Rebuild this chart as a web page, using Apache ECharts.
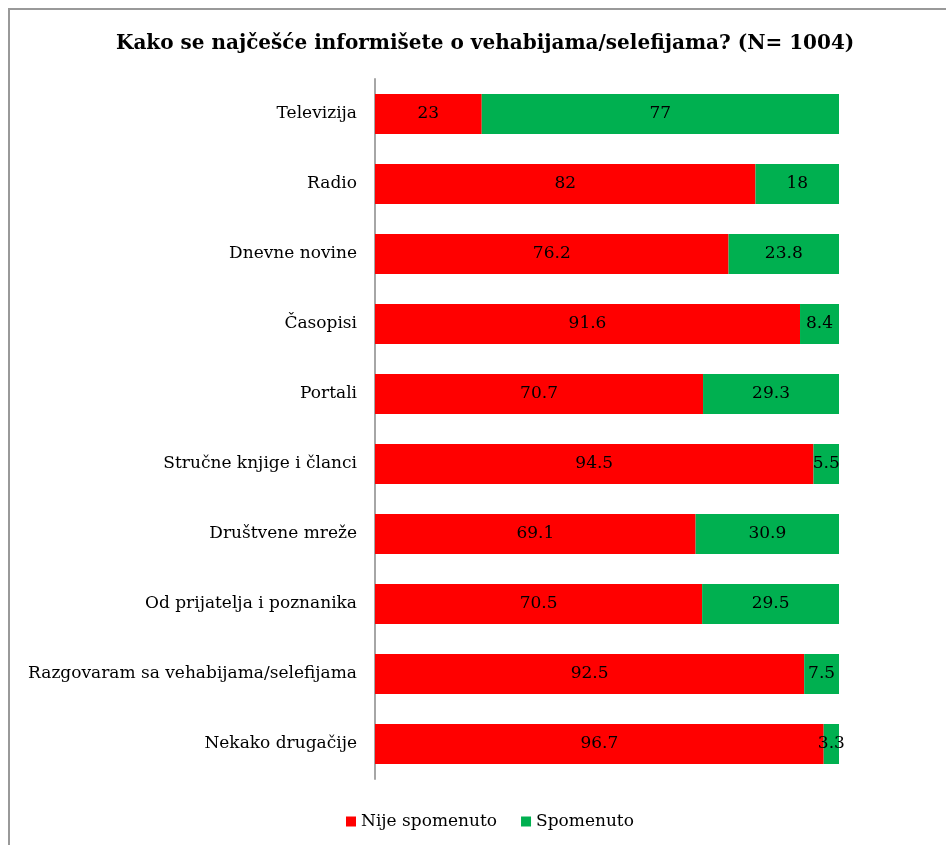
<!DOCTYPE html>
<html>
<head>
<meta charset="utf-8">
<script src="https://cdn.jsdelivr.net/npm/echarts@6/dist/echarts.min.js"></script>
<style>
  html, body { margin: 0; padding: 0; background: #fff; }
  #chart { width: 946px; height: 845px; }
</style>
</head>
<body>
<div id="chart"></div>
<script>
const categories = ['Televizija', 'Radio', 'Dnevne novine', 'Časopisi', 'Portali',
  'Stručne knjige i članci', 'Društvene mreže', 'Od prijatelja i poznanika',
  'Razgovaram sa vehabijama/selefijama', 'Nekako drugačije'];
const nijeSpomenuto = [23, 82, 76.2, 91.6, 70.7, 94.5, 69.1, 70.5, 92.5, 96.7];
const spomenuto = [77, 18, 23.8, 8.4, 29.3, 5.5, 30.9, 29.5, 7.5, 3.3];

const serif = 'DejaVu Serif';
const myChart = echarts.init(document.getElementById('chart'));

const labelStyle = {
  show: true,
  position: 'inside',
  color: '#000',
  fontFamily: serif,
  fontSize: 17
};

const option = {
  backgroundColor: '#fff',
  animation: false,
  title: {
    text: 'Kako se najčešće informišete o vehabijama/selefijama? (N= 1004)',
    left: 111,
    top: 29,
    textStyle: {
      fontFamily: serif,
      fontWeight: 'bold',
      fontSize: 20,
      color: '#000'
    }
  },
  legend: {
    bottom: 10,
    left: 341,
    itemWidth: 10,
    itemHeight: 10,
    itemGap: 24,
    icon: 'rect',
    textStyle: { fontFamily: serif, fontSize: 17, color: '#000' },
    data: ['Nije spomenuto', 'Spomenuto']
  },
  grid: {
    left: 375,
    right: 107,
    top: 79,
    bottom: 66
  },
  xAxis: {
    type: 'value',
    min: 0,
    max: 100,
    show: false
  },
  yAxis: {
    type: 'category',
    inverse: true,
    data: categories,
    axisLine: { show: true, lineStyle: { color: '#a6a6a6', width: 2 } },
    axisTick: { show: false },
    axisLabel: {
      margin: 18,
      color: '#000',
      fontFamily: serif,
      fontSize: 17
    }
  },
  graphic: [{
    type: 'rect',
    shape: { x: 9, y: 9, width: 1000, height: 900 },
    style: { fill: 'none', stroke: '#999', lineWidth: 2 },
    silent: true
  }],
  series: [
    {
      name: 'Nije spomenuto',
      type: 'bar',
      stack: 'total',
      barWidth: 40,
      itemStyle: { color: '#ff0000' },
      label: labelStyle,
      data: nijeSpomenuto
    },
    {
      name: 'Spomenuto',
      type: 'bar',
      stack: 'total',
      barWidth: 40,
      itemStyle: { color: '#00b050' },
      label: labelStyle,
      data: spomenuto
    }
  ]
};

myChart.setOption(option);
</script>
</body>
</html>
